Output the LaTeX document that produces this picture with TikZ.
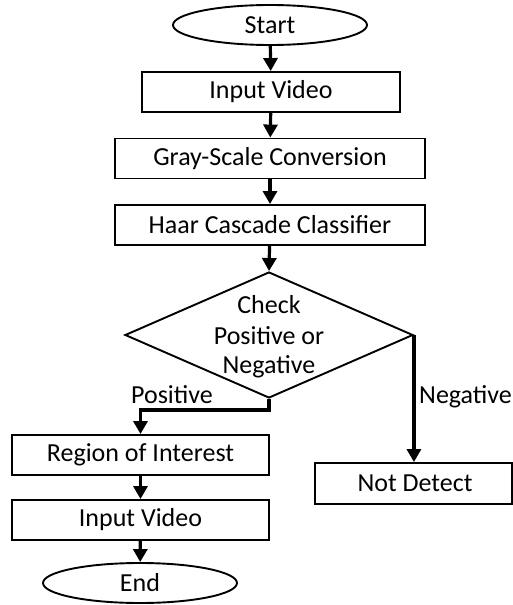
\documentclass[tikz,border=0pt]{standalone}
\usepackage{fontspec}
\setmainfont{Carlito}
\usetikzlibrary{shapes.geometric,arrows.meta}
\begin{document}
\begin{tikzpicture}[x=1pt,y=-1pt,
  fnt/.style={font=\fontsize{26}{28}\selectfont},
  box/.style={draw,line width=1.9pt,rectangle,inner sep=0pt,fnt},
  term/.style={draw,line width=1.9pt,ellipse,inner sep=0pt,fnt},
  dec/.style={draw,line width=1.9pt,diamond,inner sep=0pt},
  arr/.style={line width=3.2pt,-{Triangle[length=13pt,width=14pt]}},
  lbl/.style={fnt,inner sep=0pt}]
\useasboundingbox (0,0) rectangle (512,605);
\node[term,minimum width=194pt,minimum height=40pt] (start) at (270,25) {Start};
\node[box,minimum width=258pt,minimum height=40pt] (in1) at (271,92) {Input Video};
\node[box,minimum width=310pt,minimum height=40pt] (gray) at (270,158.5) {Gray-Scale Conversion};
\node[box,minimum width=310pt,minimum height=40pt] (haar) at (270,225) {Haar Cascade Classifier};
\node[dec,minimum width=288pt,minimum height=126pt] (chk) at (269,335) {};
\node[lbl] at (269,305) {Check};
\node[lbl] at (269,336) {Positive or};
\node[lbl] at (269,367) {Negative};
\node[box,minimum width=257pt,minimum height=40pt] (roi) at (140.5,455) {Region of Interest};
\node[box,minimum width=257pt,minimum height=40pt] (in2) at (140.5,520) {Input Video};
\node[term,minimum width=194pt,minimum height=40pt] (end) at (140,583) {End};
\node[box,minimum width=197pt,minimum height=41pt] (nd) at (413.5,483.5) {};
\node[lbl] at (415,483.5) {Not Detect};
\coordinate (pbend) at (269,410);
\draw[arr] (start) -- (in1);
\draw[arr] (in1) -- (gray);
\draw[arr] (gray) -- (haar);
\draw[arr] (haar) -- (chk.north);
\draw[arr] (chk.south) -- (pbend) -| (roi.north);
\draw[arr] (roi) -- (in2);
\draw[arr] (in2) -- (end);
\draw[arr] (chk.east) -- (chk.east |- nd.north);
\node[lbl,anchor=base] at (172,403) {Positive};
\node[lbl,anchor=base west] at (419,403) {Negative};
\end{tikzpicture}
\end{document}
